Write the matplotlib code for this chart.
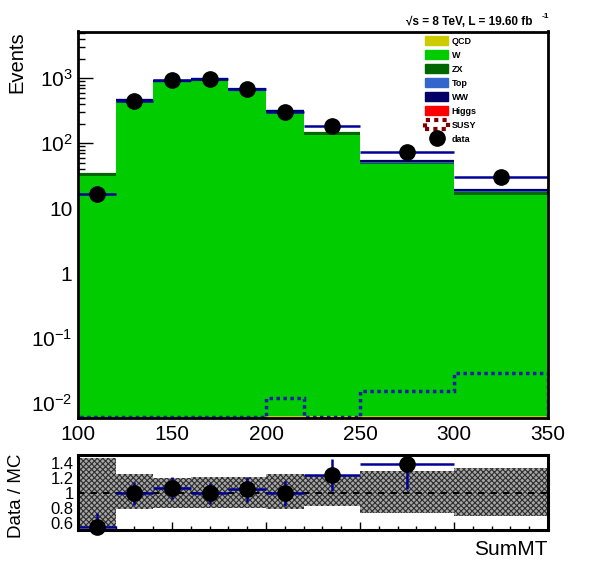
"""SumMT distribution: stacked MC backgrounds vs data, with Data/MC ratio panel."""

import numpy as np
import matplotlib
matplotlib.use("Agg")
import matplotlib.pyplot as plt
from matplotlib.patches import Patch
from matplotlib.lines import Line2D
from matplotlib.ticker import FixedLocator, FixedFormatter, MultipleLocator, LogLocator, NullFormatter

plt.rcParams['font.family'] = ['Liberation Sans', 'DejaVu Sans']
plt.rcParams['mathtext.fontset'] = 'custom'
plt.rcParams['mathtext.rm'] = 'Liberation Sans'
plt.rcParams['mathtext.it'] = 'Liberation Sans:italic'
plt.rcParams['mathtext.bf'] = 'Liberation Sans:bold'
plt.rcParams['hatch.linewidth'] = 0.8

# bins (GeV)
edges = np.array([100, 120, 140, 160, 180, 200, 220, 250, 300, 350])

# stacked backgrounds, bottom to top
qcd = [0, 0, 0, 0, 0, 0.0063, 0.0063, 0.0063, 0.0063]
w = [31.5, 440, 880, 930, 645, 300, 134, 48.5, 16.0]
zx = [2.0, 12, 20, 24, 17, 8, 10, 2.5, 1.2]
top = [0, 5, 10, 12, 8, 4, 0, 1.2, 1.4]
ww = [0, 4, 8, 9, 6, 3, 0, 0.3, 0.8]
higgs = [0.02, 0.2, 0.5, 0.5, 0.4, 0.2, 0.1, 0.05, 0.03]
susy = [0, 0, 0, 0, 0, 0.0122, 0, 0.0156, 0.0296]

data = [16.6, 447, 942, 966, 680, 306, 185, 72.7, 30.0]

# ratio panel
ratio = [0.545, 0.99, 1.06, 0.99, 1.045, 0.99, 1.235, 1.38, np.nan]
ratio_err = [0.18, 0.15, 0.15, 0.14, 0.165, 0.17, 0.21, 0.33, np.nan]
band_lo = [0.54, 0.78, 0.80, 0.80, 0.79, 0.78, 0.82, 0.73, 0.69]
band_hi = [1.46, 1.245, 1.20, 1.21, 1.21, 1.245, 1.23, 1.29, 1.33]

components = [("QCD", qcd, "#cccc00"), ("W", w, "#00cc00"), ("ZX", zx, "#006600"),
              ("Top", top, "#3366cc"), ("WW", ww, "#000066"), ("Higgs", higgs, "#ff0000")]
outlined = ["ZX", "Top", "WW"]

y_lo, y_hi = 0.00594, 5250
navy = "#000099"

centers = 0.5 * (edges[:-1] + edges[1:])
half = 0.5 * np.diff(edges)

fig = plt.figure(figsize=(5.96, 5.74), dpi=100)
ax = fig.add_axes([78 / 596, 1 - 418 / 574, 470 / 596, 386.5 / 574])
ax2 = fig.add_axes([78 / 596, 1 - 530 / 574, 470 / 596, 74.7 / 574])

# --- main panel
ax.set_yscale("log")
cum = np.zeros(len(centers))
for name, vals, col in components:
    vals = np.array(vals, dtype=float)
    lo = np.maximum(cum, y_lo * 0.5)
    hi = cum + vals
    ax.stairs(np.maximum(hi, y_lo * 0.5), edges, baseline=lo, fill=True, color=col, lw=0, zorder=2)
    if name in outlined:
        mask = vals > 0
        ax.hlines(hi[mask], edges[:-1][mask], edges[1:][mask], color=col, lw=1.6, zorder=3)
    cum = hi

susy_draw = np.clip(np.array(susy), y_lo * 1.03, None)
ax.stairs(susy_draw, edges, color="#1c1ca8", lw=2.5, ls=(0, (1, 1)), zorder=4)

ax.errorbar(centers, data, xerr=half, yerr=np.sqrt(data), fmt="none",
            ecolor=navy, elinewidth=1.8, capsize=0, zorder=5)
ax.plot(centers, data, "o", color="black", ms=11, zorder=6)

ax.set_xlim(100, 350)
ax.set_ylim(y_lo, y_hi)
ax.yaxis.set_major_locator(FixedLocator([1e-2, 1e-1, 1, 10, 1e2, 1e3]))
ax.yaxis.set_major_formatter(FixedFormatter([r"$10^{-2}$", r"$10^{-1}$", "1", "10", r"$10^{2}$", r"$10^{3}$"]))
ax.yaxis.set_minor_locator(LogLocator(base=10, subs=np.arange(2, 10)))
ax.yaxis.set_minor_formatter(NullFormatter())
ax.xaxis.set_major_locator(MultipleLocator(50))
ax.xaxis.set_minor_locator(MultipleLocator(10))
ax.tick_params(axis="both", which="both", direction="in", labelsize=15, top=False, right=False)
ax.tick_params(axis="x", which="major", length=5.8, width=1, pad=5)
ax.tick_params(axis="x", which="minor", length=2.9, width=1)
ax.tick_params(axis="y", which="major", length=10.8, width=1, pad=4)
ax.tick_params(axis="y", which="minor", length=5, width=1)
for s in ax.spines.values():
    s.set_linewidth(2)
    s.set_zorder(10)
ax.set_ylabel("Events", fontsize=14.5, loc="top")
ax.yaxis.set_label_coords(-0.109, 1.0)

# legend
handles = [Patch(facecolor=c, edgecolor=c) for _, _, c in components]
labels = [n for n, _, _ in components]
handles.append(Patch(facecolor="none", edgecolor="#800000", linestyle=(0, (1, 1)), linewidth=3))
labels.append("SUSY")
handles.append(Line2D([], [], ls="none", marker="o", color="black", ms=11))
labels.append("data")
fig.legend(handles, labels, loc="upper left", bbox_to_anchor=(425 / 596, 1 - 36 / 574),
           frameon=False, borderpad=0, borderaxespad=0, handlelength=2.6, handleheight=1.15,
           handletextpad=0.35, labelspacing=0.5, prop={"weight": "bold", "size": 6.5})

fig.text(406 / 596, 1 - 25 / 574, "\u221as = 8 TeV, L = 19.60 fb", fontsize=8.5,
         fontweight="bold", va="baseline", ha="left")
fig.text(542 / 596, 1 - 18 / 574, "-1", fontsize=6, fontweight="bold", va="baseline", ha="left")

# --- ratio panel
ax2.stairs(band_hi, edges, baseline=band_lo, fill=True, facecolor="#a6a6a6",
           edgecolor="#2e2e2e", hatch="xxxxxx", lw=0, zorder=2)
ax2.axhline(1.0, color="black", ls=(0, (3, 3)), lw=1.5, zorder=3)
ax2.errorbar(centers, ratio, xerr=half, yerr=ratio_err, fmt="none",
             ecolor=navy, elinewidth=1.8, capsize=0, zorder=4)
ax2.plot(centers, ratio, "o", color="black", ms=11, zorder=5, clip_on=False)

ax2.set_xlim(100, 350)
ax2.set_ylim(0.5, 1.5)
ax2.yaxis.set_major_locator(FixedLocator([0.6, 0.8, 1.0, 1.2, 1.4]))
ax2.yaxis.set_major_formatter(FixedFormatter(["0.6", "0.8", "1", "1.2", "1.4"]))
ax2.yaxis.set_minor_locator(MultipleLocator(0.05))
ax2.xaxis.set_major_locator(MultipleLocator(50))
ax2.xaxis.set_minor_locator(MultipleLocator(10))
ax2.tick_params(axis="both", which="both", direction="in", top=False, right=False)
ax2.tick_params(axis="x", which="both", labelbottom=False)
ax2.tick_params(axis="x", which="major", length=5.8, width=1)
ax2.tick_params(axis="x", which="minor", length=2.9, width=1)
ax2.tick_params(axis="y", which="major", length=4, width=1, labelsize=12, pad=3)
ax2.tick_params(axis="y", which="minor", length=2, width=1)
for s in ax2.spines.values():
    s.set_linewidth(2.2)
    s.set_zorder(10)
ax2.set_ylabel("Data / MC", fontsize=13.5)
ax2.yaxis.set_label_coords(-0.113, 0.46)
ax2.set_xlabel("SumMT", fontsize=15, loc="right")
ax2.xaxis.set_label_coords(1.0, -0.13)

fig.savefig("out.png", dpi=100)
